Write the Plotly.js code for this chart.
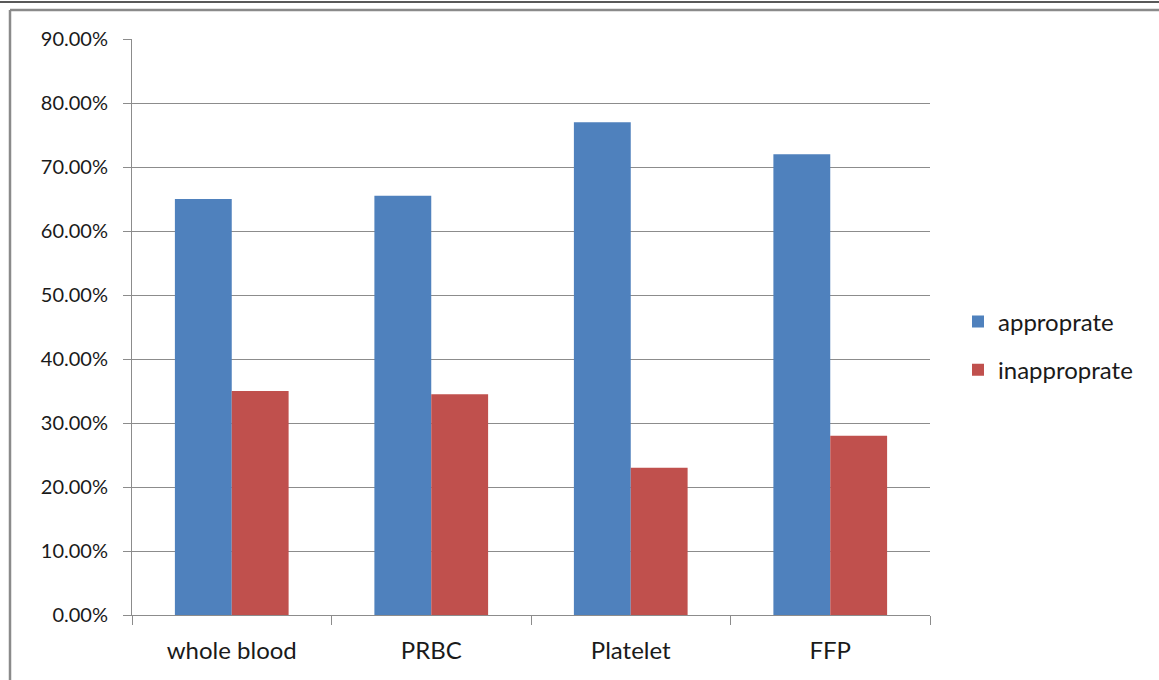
<!DOCTYPE html>
<html>
<head>
<meta charset="utf-8">
<script src="https://cdn.plot.ly/plotly-3.0.1.min.js"></script>
<style>
html,body{margin:0;padding:0;background:#fff;}
#chart{width:1159px;height:680px;}
</style>
</head>
<body>
<div id="chart"></div>
<script>
const categories = ["whole blood", "PRBC", "Platelet", "FFP"];
const appropriate = [65.0, 65.5, 77.0, 72.0];
const inappropriate = [35.0, 34.5, 23.0, 28.0];
const seriesNames = ["approprate", "inapproprate"];
const yTickVals = [0, 10, 20, 30, 40, 50, 60, 70, 80, 90];
const yTickText = ["0.00%", "10.00%", "20.00%", "30.00%", "40.00%", "50.00%", "60.00%", "70.00%", "80.00%", "90.00%"];

const L = 132, R = 930, T = 39, B = 615, W = 1159, H = 680;
const px2x = p => (p - L) / (R - L);
const py2y = p => (B - p) / (B - T);

const fam = "Lato, 'Open Sans', sans-serif";
const txt = "#1a1a1a";

const traces = [
  {type: "bar", name: seriesNames[0], x: categories, y: appropriate,
   marker: {color: "#4F81BD"}, legendgroup: "a"},
  {type: "bar", name: seriesNames[1], x: categories, y: inappropriate,
   marker: {color: "#C0504D"}, legendgroup: "b"}
];

const layout = {
  width: W, height: H,
  margin: {l: L, r: W - R, t: T, b: H - B, pad: 0},
  paper_bgcolor: "#fff", plot_bgcolor: "#fff",
  font: {family: fam, size: 22, color: txt},
  barmode: "group", bargap: 0.43, bargroupgap: 0,
  showlegend: true,
  legend: {x: px2x(958), xanchor: "left", y: py2y(346), yanchor: "middle",
           font: {family: fam, size: 24, color: txt},
           traceorder: "grouped", tracegroupgap: 14, bgcolor: "rgba(0,0,0,0)"},
  xaxis: {type: "category", tickson: "boundaries", ticks: "outside", ticklen: 9,
          tickcolor: "#8c8c8c", tickwidth: 1, showline: true, linecolor: "#8c8c8c",
          linewidth: 1, showgrid: false, zeroline: false, fixedrange: true,
          ticklabelstandoff: 14, tickfont: {family: fam, size: 24, color: txt}},
  yaxis: {range: [0, 90], tickmode: "array", tickvals: yTickVals, ticktext: yTickText,
          ticks: "outside", ticklen: 8, tickcolor: "#8c8c8c", showline: true,
          linecolor: "#8c8c8c", linewidth: 1, showgrid: true, gridcolor: "#8c8c8c",
          gridwidth: 1, zeroline: false, fixedrange: true, ticklabelstandoff: 11,
          tickfont: {family: fam, size: 20, color: txt}},
  shapes: [
    {type: "line", xref: "paper", yref: "paper", x0: px2x(-5), x1: px2x(1170),
     y0: py2y(2), y1: py2y(2), line: {color: "#222", width: 1.5}},
    {type: "line", xref: "paper", yref: "paper", x0: px2x(10), x1: px2x(1170),
     y0: py2y(10), y1: py2y(10), line: {color: "#8a8a8a", width: 2.5}},
    {type: "line", xref: "paper", yref: "paper", x0: px2x(10), x1: px2x(10),
     y0: py2y(10), y1: py2y(690), line: {color: "#8a8a8a", width: 2.5}}
  ]
};

Plotly.newPlot("chart", traces, layout, {displayModeBar: false, staticPlot: true});
</script>
</body>
</html>
